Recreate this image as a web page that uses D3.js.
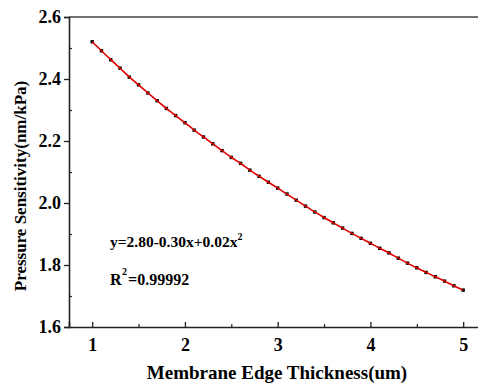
<!DOCTYPE html>
<html>
<head>
<meta charset="utf-8">
<script src="https://cdn.jsdelivr.net/npm/d3@7"></script>
<style>
  body { margin: 0; background: #fff; }
  text { font-family: 'Liberation Serif', 'Times New Roman', serif; font-weight: bold; }
</style>
</head>
<body>
<div id="chart"></div>
<script>
// thickness (um), step 0.1
const thickness = d3.range(41).map(i => +(1 + i * 0.1).toFixed(1))
// pressure sensitivity
const sensitivity = [
  2.520, 2.491, 2.462, 2.435, 2.406, 2.381, 2.355, 2.330, 2.305, 2.282,
  2.259, 2.235, 2.213, 2.191, 2.169, 2.147, 2.128, 2.106, 2.086, 2.067,
  2.048, 2.029, 2.009, 1.990, 1.971, 1.953, 1.936, 1.919, 1.902, 1.886,
  1.870, 1.854, 1.839, 1.822, 1.806, 1.791, 1.776, 1.762, 1.748, 1.733,
  1.719
]
const xTicks = [1, 2, 3, 4, 5]
const xMinor = [1.5, 2.5, 3.5, 4.5]
const yTicks = [1.6, 1.8, 2.0, 2.2, 2.4, 2.6]
const yMinor = [1.7, 1.9, 2.1, 2.3, 2.5]

const data = thickness.map((t, i) => ({ x: t, y: sensitivity[i] }))

const width = 478, height = 386
const svg = d3.select('#chart').append('svg')
  .attr('width', width)
  .attr('height', height)

const x = d3.scaleLinear().domain([0.75, 5.2]).range([69, 481.7])
const y = d3.scaleLinear().domain([1.6, 2.6]).range([327, 17])

const axisColor = '#222'

// top frame line (right side is cut off in the original)
svg.append('line')
  .attr('x1', x(0.75)).attr('x2', width)
  .attr('y1', y(2.6)).attr('y2', y(2.6))
  .attr('stroke', '#444').attr('stroke-width', 1.6)

// x axis: ticks point inward
svg.append('g')
  .attr('transform', `translate(0,${y(1.6)})`)
  .call(d3.axisBottom(x).tickValues(xTicks).tickSize(-5).tickPadding(11).tickFormat(d3.format('d')))
  .call(g => g.select('.domain').attr('stroke', axisColor).attr('stroke-width', 1.6))
  .call(g => g.selectAll('.tick line').attr('stroke', axisColor).attr('stroke-width', 1.3))
  .call(g => g.selectAll('.tick text').attr('font-size', 18).attr('fill', '#000')
    .attr('font-family', 'Liberation Serif').attr('font-weight', 'bold'))
svg.append('g')
  .attr('transform', `translate(0,${y(1.6)})`)
  .call(d3.axisBottom(x).tickValues(xMinor).tickSize(-3).tickFormat(''))
  .call(g => g.select('.domain').remove())
  .call(g => g.selectAll('.tick line').attr('stroke', axisColor).attr('stroke-width', 1.2))

// y axis: major ticks outward, minor inward
svg.append('g')
  .attr('transform', `translate(${x(0.75)},0)`)
  .call(d3.axisLeft(y).tickValues(yTicks).tickSize(5).tickPadding(3).tickFormat(d3.format('.1f')))
  .call(g => g.select('.domain').attr('stroke', axisColor).attr('stroke-width', 1.6))
  .call(g => g.selectAll('.tick line').attr('stroke', axisColor).attr('stroke-width', 1.3))
  .call(g => g.selectAll('.tick text').attr('font-size', 18).attr('fill', '#000')
    .attr('font-family', 'Liberation Serif').attr('font-weight', 'bold'))
svg.append('g')
  .attr('transform', `translate(${x(0.75)},0)`)
  .call(d3.axisLeft(y).tickValues(yMinor).tickSize(-3).tickFormat(''))
  .call(g => g.select('.domain').remove())
  .call(g => g.selectAll('.tick line').attr('stroke', axisColor).attr('stroke-width', 1.2))

// axis titles
svg.append('text')
  .attr('x', 277).attr('y', 379)
  .attr('text-anchor', 'middle')
  .attr('font-size', 19)
  .text('Membrane Edge Thickness(um)')

svg.append('text')
  .attr('transform', `translate(26,${(y(1.6) + y(2.6)) / 2 + 14}) rotate(-90)`)
  .attr('text-anchor', 'middle')
  .attr('font-size', 17)
  .text('Pressure Sensitivity(nm/kPa)')

// data points
svg.append('g')
  .selectAll('rect')
  .data(data)
  .join('rect')
  .attr('x', d => x(d.x) - 1.7)
  .attr('y', d => y(d.y) - 1.7)
  .attr('width', 3.4)
  .attr('height', 3.4)
  .attr('fill', '#000')

// fitted curve
svg.append('path')
  .datum(data)
  .attr('fill', 'none')
  .attr('stroke', '#e00000')
  .attr('stroke-width', 1.6)
  .attr('d', d3.line().x(d => x(d.x)).y(d => y(d.y)).curve(d3.curveBasis))

// fit annotations
const eq = svg.append('text')
  .attr('x', 110).attr('y', 247)
  .attr('font-size', 15.5)
eq.append('tspan').text('y=2.80-0.30x+0.02x')
eq.append('tspan').attr('dy', -7).attr('font-size', 10).text('2')

const r2 = svg.append('text')
  .attr('x', 110).attr('y', 285)
  .attr('font-size', 16)
r2.append('tspan').text('R')
r2.append('tspan').attr('dy', -10).attr('dx', 0.5).attr('font-size', 10).text('2')
r2.append('tspan').attr('dy', 10).attr('dx', 1).text('=0.99992')
</script>
</body>
</html>
